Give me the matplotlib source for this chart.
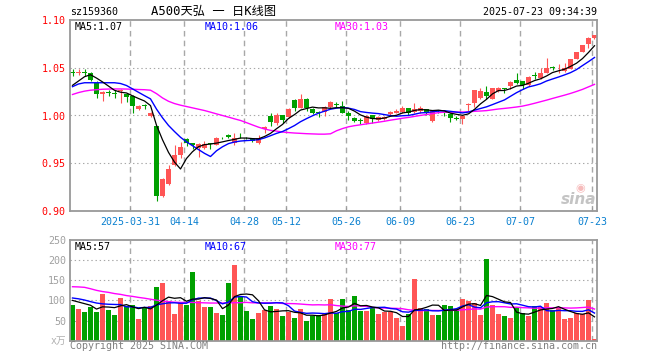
import numpy as np
import matplotlib
matplotlib.use('Agg')
import matplotlib.pyplot as plt
import pandas as pd

plt.rcParams['lines.scale_dashes'] = False
MONO = ['DejaVu Sans Mono', 'Noto Sans CJK SC']

# ---------------- data ----------------
opens = [
    1.046, 1.045, 1.046, 1.045, 1.034, 1.023, 1.025, 1.024, 1.026, 1.022,
    1.020, 1.007, 1.0105, 1.000, 0.9885, 0.916, 0.928, 0.948, 0.959, 0.975,
    0.971, 0.966, 0.966, 0.971, 0.9695, 0.9765, 0.980, 0.971, 0.9775, 0.9765,
    0.9757, 0.971, 0.9855, 0.9996, 0.992, 1.0003, 0.998, 1.0163, 1.0083, 1.017,
    1.0073, 1.0035, 1.0038, 1.009, 1.012, 1.010, 1.0031, 0.9972, 0.9948, 0.992,
    1.0003, 0.9955, 0.9965, 1.002, 1.0031, 1.0038, 1.0083, 1.0038, 1.0048, 1.0066,
    0.9944, 1.005, 1.0035, 1.0015, 0.9972, 0.9968, 1.0115, 1.0135, 1.018, 1.0246,
    1.0177, 1.0257, 1.0277, 1.0309, 1.0368, 1.0357, 1.0316, 1.0416, 1.0396, 1.0448,
    1.050, 1.0493, 1.0465, 1.0489, 1.0594, 1.0666, 1.0746, 1.0812]
closes = [
    1.045, 1.046, 1.045, 1.037, 1.023, 1.025, 1.024, 1.023, 1.027, 1.019,
    1.010, 1.010, 1.010, 1.003, 0.916, 0.934, 0.944, 0.959, 0.967, 0.971,
    0.9695, 0.970, 0.970, 0.970, 0.976, 0.976, 0.977, 0.976, 0.977, 0.976,
    0.973, 0.976, 0.988, 0.9934, 1.0003, 0.9955, 1.0073, 1.0083, 1.017, 1.0083,
    1.0031, 1.003, 1.009, 1.0142, 1.0115, 1.0031, 0.9996, 0.9944, 0.9944, 0.9996,
    0.9961, 0.998, 0.9985, 1.0038, 1.0048, 1.0083, 1.0024, 1.0073, 1.0083, 1.0031,
    1.0048, 1.0045, 1.003, 0.997, 0.9968, 0.9997, 1.012, 1.0267, 1.0257, 1.0205,
    1.0284, 1.0291, 1.0274, 1.035, 1.0343, 1.0316, 1.0406, 1.0413, 1.0441, 1.0493,
    1.0496, 1.0496, 1.0496, 1.0587, 1.0663, 1.0739, 1.0816, 1.0847]
highs = [
    1.049, 1.049, 1.049, 1.046, 1.036, 1.026, 1.027, 1.027, 1.028, 1.024,
    1.021, 1.011, 1.0125, 1.004, 0.989, 0.935, 0.948, 0.969, 0.972, 0.976,
    0.971, 0.971, 0.973, 0.9715, 0.977, 0.978, 0.981, 0.9815, 0.982, 0.977,
    0.976, 0.9795, 0.989, 1.0024, 1.0024, 1.001, 1.008, 1.017, 1.023, 1.0187,
    1.0083, 1.005, 1.010, 1.0153, 1.0142, 1.0153, 1.005, 0.998, 0.9969, 1.000,
    1.0003, 0.999, 0.9995, 1.0048, 1.007, 1.010, 1.0083, 1.0128, 1.010, 1.0066,
    1.0055, 1.0062, 1.004, 1.0025, 0.9997, 1.000, 1.0135, 1.0267, 1.0284, 1.0309,
    1.029, 1.0295, 1.0291, 1.036, 1.0441, 1.0357, 1.0413, 1.0458, 1.050, 1.0597,
    1.0517, 1.054, 1.0545, 1.0594, 1.0666, 1.0742, 1.0826, 1.0847]
lows = [
    1.041, 1.042, 1.041, 1.036, 1.018, 1.015, 1.020, 1.018, 1.013, 1.014,
    1.003, 1.006, 1.007, 0.998, 0.910, 0.915, 0.927, 0.947, 0.956, 0.968,
    0.965, 0.957, 0.965, 0.965, 0.969, 0.975, 0.976, 0.969, 0.976, 0.975,
    0.972, 0.970, 0.9815, 0.989, 0.990, 0.992, 0.997, 1.005, 1.008, 1.005,
    1.0013, 0.998, 0.9996, 1.008, 1.0094, 1.0024, 0.9955, 0.9927, 0.991, 0.991,
    0.992, 0.9938, 0.995, 1.001, 1.0024, 1.003, 1.000, 1.003, 1.003, 1.000,
    0.9934, 1.0027, 0.999, 0.993, 0.9951, 0.991, 1.0048, 1.0093, 1.017, 1.017,
    1.017, 1.025, 1.0239, 1.0274, 1.033, 1.0274, 1.031, 1.0378, 1.0378, 1.0448,
    1.0475, 1.0448, 1.046, 1.0486, 1.059, 1.0663, 1.0704, 1.0802]
volumes = [
    88.5, 78.6, 71, 83.6, 71, 116, 76, 63.7, 106, 86,
    88.5, 53.8, 80.3, 86, 133, 143, 98.5, 66, 93.5, 88.5,
    170, 98.5, 83.6, 83.6, 68.7, 63.7, 143, 188, 111, 73.7,
    53.8, 68.7, 76, 86, 78.6, 61, 71, 56, 78.6, 49.7,
    61, 63.7, 66, 103, 70, 103, 76, 111, 73.7, 73.7,
    83.6, 66, 71, 71, 56, 36.4, 66, 153, 81, 78.6,
    63.7, 63.7, 87.7, 86, 78.6, 103, 98.5, 93.5, 63.7, 203,
    88.5, 66, 61, 56, 83.6, 67.9, 61, 86, 83.6, 93.5,
    76, 83.6, 53.8, 56, 68.7, 66, 101, 4]

# moving-average values at the left edge (window not yet full)
ma5_head = [1.0316, 1.0361, 1.0406, 1.0427]
ma10_head = [1.0302, 1.0330, 1.0343, 1.0343, 1.0343, 1.0343, 1.0343, 1.0343, 1.0335]
ma30_head = [1.0220, 1.0240, 1.0255, 1.0265, 1.0270, 1.0275, 1.0277, 1.0278, 1.0278,
             1.0277, 1.0275, 1.0272, 1.0270, 1.0265, 1.0229, 1.0184, 1.0149, 1.0125,
             1.0108, 1.0094, 1.0080, 1.0066, 1.0052, 1.0035, 1.0017, 1.0000, 0.9983,
             0.9965, 0.9948]
vma5_head = [100, 96, 92, 88]
vma10_head = [106, 104, 101, 97, 93.5, 91.5, 90.5, 90, 89.5]
vma30_head = [134, 133.5, 132.5, 129, 125, 122, 120, 117, 115, 112, 110, 107.5, 105.5,
              103, 100.5, 98.5, 97, 95.5, 95, 95, 95, 94.5, 94, 93.5, 93.5, 93.5, 94,
              94.3, 94.3]

tick_idx = [10, 19, 29, 36, 46, 55, 65, 75, 87]
tick_labels = ['2025-03-31', '04-14', '04-28', '05-12', '05-26', '06-09', '06-23', '07-07', '07-23']
price_ticks = [0.90, 0.95, 1.00, 1.05, 1.10]
vol_ticks = [50, 100, 150, 200, 250]
price_ma_text = ['1.07', '1.06', '1.03']
vol_ma_text = ['57', '67', '77']

# ---------------- helpers ----------------
def moving_avg(values, n, head):
    s = pd.Series(values, dtype=float).rolling(n).mean().to_numpy()
    s[:n - 1] = head
    return s

RED = '#ff5555'
GREEN = '#00a000'
GRID = '#a8a8a8'
FRAME = '#999999'
W, H = 660, 360

o = np.array(opens); c = np.array(closes)
hi = np.array(highs); lo = np.array(lows)
v = np.array(volumes)
n = len(c)
x = np.arange(n)
up = c > o
cols = np.where(up, RED, GREEN)

fig = plt.figure(figsize=(W / 100, H / 100), dpi=100)
fig.patch.set_facecolor('white')

def px_rect(l, t, r, b):
    return [l / W, 1 - b / H, (r - l) / W, (b - t) / H]

ax = fig.add_axes(px_rect(70, 20, 597, 211))
axv = fig.add_axes(px_rect(70, 240, 597, 340.7))

half = 5 / 12  # half of a 6px slot in index units
for a in (ax, axv):
    a.set_xlim(-half, n - 1 + half)
    for sp in a.spines.values():
        sp.set_color(FRAME)
        sp.set_linewidth(1.3)
    for t in tick_idx:
        a.axvline(t - half, color=GRID, lw=1.0, dashes=(4, 3), zorder=0)

# ---- price panel ----
ax.set_ylim(price_ticks[0], price_ticks[-1])
for p in price_ticks[1:-1]:
    ax.axhline(p, color=GRID, lw=0.8, linestyle=(0, (1, 2)), zorder=0)
body_bot = np.minimum(o, c)
body_h = np.maximum(np.abs(c - o), 0.0009)
ax.vlines(x, lo, hi, colors=cols, linewidth=0.8, zorder=2)
ax.bar(x, body_h, bottom=body_bot, width=5 / 6, color=cols, linewidth=0, zorder=2)

ax.plot(x, moving_avg(c, 30, ma30_head), color='#ff00ff', lw=1.0, zorder=3)
ax.plot(x, moving_avg(c, 10, ma10_head), color='#0000ff', lw=1.0, zorder=3)
ax.plot(x, moving_avg(c, 5, ma5_head), color='black', lw=0.9, zorder=3)

ax.set_yticks(price_ticks)
ax.set_yticklabels(['%.2f' % p for p in price_ticks], color='#ff0000',
                   family=MONO, fontsize=7.2)
ax.set_xticks([t - half for t in tick_idx])
ax.set_xticklabels(tick_labels, color='#0a80d0', family=MONO, fontsize=7.2)
ax.tick_params(axis='y', length=0, pad=3)
ax.tick_params(axis='x', direction='in', length=3, color=FRAME, pad=4)

# ---- volume panel ----
axv.set_ylim(0, vol_ticks[-1])
for vv in vol_ticks[:-1]:
    axv.axhline(vv, color=GRID, lw=0.8, linestyle=(0, (1, 2)), zorder=0)
axv.bar(x, v, width=5 / 6, color=cols, linewidth=0, zorder=2)
axv.plot(x, moving_avg(v, 30, vma30_head), color='#ff00ff', lw=1.0, zorder=3)
axv.plot(x, moving_avg(v, 10, vma10_head), color='#0000ff', lw=1.0, zorder=3)
axv.plot(x, moving_avg(v, 5, vma5_head), color='black', lw=0.9, zorder=3)
axv.set_yticks(vol_ticks)
axv.set_yticklabels([str(t) for t in vol_ticks], color='#a0a0a0', family=MONO, fontsize=7.2)
axv.set_xticks([t - half for t in tick_idx])
axv.set_xticklabels([])
axv.tick_params(axis='y', length=0, pad=3)
axv.tick_params(axis='x', direction='in', length=0)

# ---- texts ----
def ftext(px, py, s, **kw):
    kw.setdefault('family', MONO)
    kw.setdefault('fontsize', 7.2)
    kw.setdefault('va', 'center')
    fig.text(px / W, 1 - py / H, s, **kw)

ftext(70, 12, 'sz159360', color='black')
ftext(214, 12, 'A500天弘 一 日K线图', color='black', ha='center', fontsize=8.8)
ftext(597, 12, '2025-07-23 09:34:39', color='black', ha='right')

ma_cols = ['black', '#0000ff', '#ff00ff']
ma_names = ['MA5', 'MA10', 'MA30']
ma_x = [75, 205, 335]
for name, val, col, mx in zip(ma_names, price_ma_text, ma_cols, ma_x):
    ftext(mx, 27, '%s:%s' % (name, val), color=col)
for name, val, col, mx in zip(ma_names, vol_ma_text, ma_cols, ma_x):
    ftext(mx, 247, '%s:%s' % (name, val), color=col)

ftext(66, 340.5, 'x万', color='#b0b0b0', ha='right', fontsize=7)
ftext(70, 346, 'Copyright 2025 SINA.COM', color='#808080')
ftext(597, 346, 'http://finance.sina.com.cn', color='#808080', ha='right')

# sina watermark
fig.text(596 / W, 1 - 199 / H, 'sina', color='#c4c4c4', fontsize=11, fontweight='bold',
         style='italic', ha='right', va='center', family='DejaVu Sans')
fig.text(580 / W, 1 - 188 / H, '◉', color='#f6bcbc', fontsize=8, ha='center', va='center',
         family='DejaVu Sans')

fig.savefig('out.png', dpi=100, facecolor='white')
